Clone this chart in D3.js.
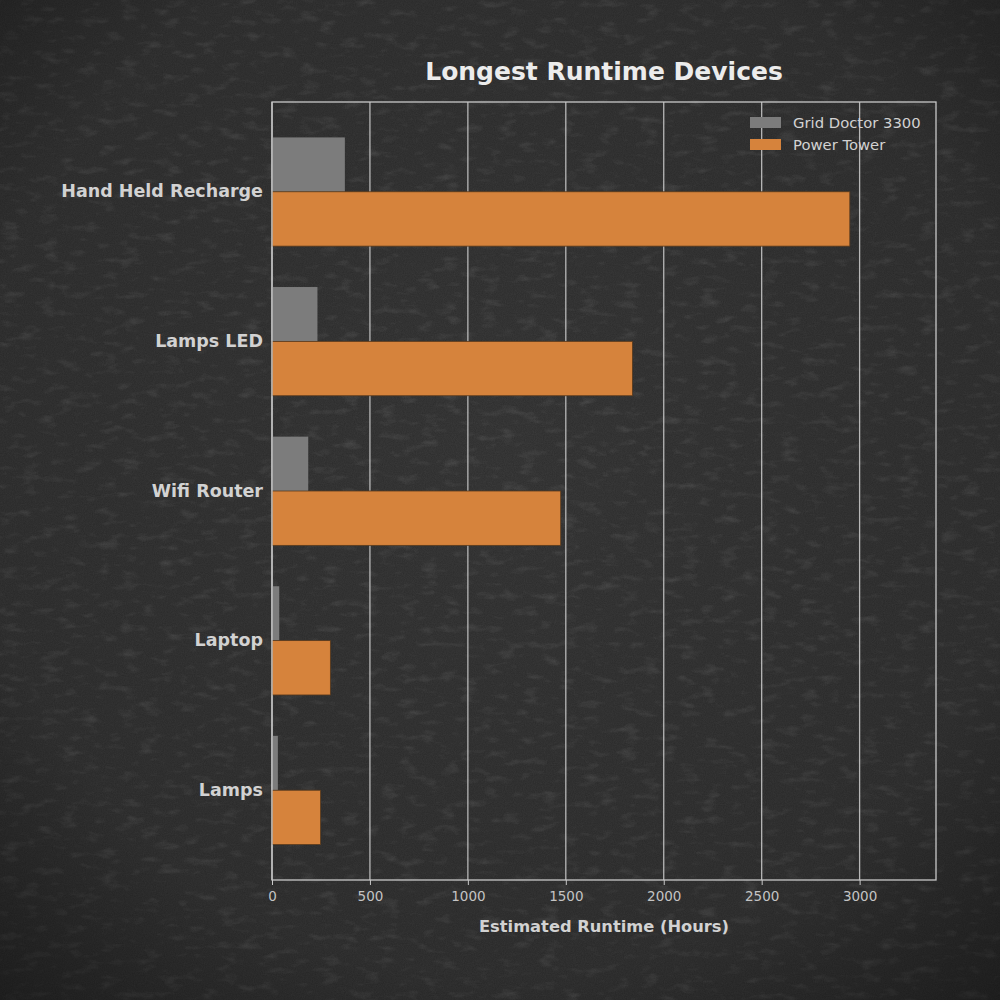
<!DOCTYPE html>
<html>
<head>
<meta charset="utf-8">
<script src="https://cdn.jsdelivr.net/npm/d3@7"></script>
<style>
  html, body { margin: 0; padding: 0; background: #2a2a2a; }
  svg { display: block; }
</style>
</head>
<body>
<svg id="chart"></svg>
<script>
// DATA
const devices = ["Hand Held Recharge", "Lamps LED", "Wifi Router", "Laptop", "Lamps"];
const grid_doctor = [372, 232, 185, 37, 30];
const power_tower = [2950, 1840, 1474, 298, 248];
const series_names = ["Grid Doctor 3300", "Power Tower"];
const x_ticks = [0, 500, 1000, 1500, 2000, 2500, 3000];
const x_max = 3390;

// LAYOUT
const width = 1000, height = 1000;
const margin = {left: 272, right: 64, top: 102, bottom: 120};
const plot_w = width - margin.left - margin.right;
const plot_h = height - margin.top - margin.bottom;
const text_col = "#d2d2d2";
const font = "'DejaVu Sans', sans-serif";

const svg = d3.select("#chart")
    .attr("width", width)
    .attr("height", height);

// background texture: base + grain + scratches + vignette
const defs = svg.append("defs");
const vig = defs.append("radialGradient").attr("id", "vig")
    .attr("cx", "50%").attr("cy", "45%").attr("r", "75%");
vig.append("stop").attr("offset", "0%").attr("stop-color", "#000").attr("stop-opacity", 0);
vig.append("stop").attr("offset", "70%").attr("stop-color", "#000").attr("stop-opacity", 0.12);
vig.append("stop").attr("offset", "100%").attr("stop-color", "#000").attr("stop-opacity", 0.45);

const noise = defs.append("filter").attr("id", "grain")
    .attr("x", 0).attr("y", 0).attr("width", "100%").attr("height", "100%");
noise.append("feTurbulence").attr("type", "fractalNoise")
    .attr("baseFrequency", "0.9").attr("numOctaves", 2).attr("seed", 4);
noise.append("feColorMatrix").attr("type", "matrix")
    .attr("values", "0 0 0 0 1  0 0 0 0 1  0 0 0 0 1  0 0 0 0.07 0");

const scratch = defs.append("filter").attr("id", "scratch")
    .attr("x", 0).attr("y", 0).attr("width", "100%").attr("height", "100%");
scratch.append("feTurbulence").attr("type", "fractalNoise")
    .attr("baseFrequency", "0.05 0.12").attr("numOctaves", 3).attr("seed", 11);
scratch.append("feColorMatrix").attr("type", "matrix")
    .attr("values", "0 0 0 0 1  0 0 0 0 1  0 0 0 0 1  0 0 0 1.6 -0.85");

svg.append("rect").attr("width", width).attr("height", height).attr("fill", "#2d2d2d");
svg.append("rect").attr("width", width).attr("height", height).attr("filter", "url(#scratch)").attr("opacity", 0.15);
svg.append("rect").attr("width", width).attr("height", height).attr("filter", "url(#grain)");
svg.append("rect").attr("width", width).attr("height", height).attr("fill", "url(#vig)");

// SCALES
const x = d3.scaleLinear().domain([0, x_max]).range([0, plot_w]);
const y = d3.scaleBand().domain(devices).range([0, plot_h]).paddingInner(0.2733).paddingOuter(0.2367);

const g = svg.append("g").attr("transform", `translate(${margin.left},${margin.top})`);

// grid lines
g.append("g")
    .selectAll("line")
    .data(x_ticks)
    .join("line")
    .attr("x1", d => x(d)).attr("x2", d => x(d))
    .attr("y1", 0).attr("y2", plot_h)
    .attr("stroke", "#cfcfcf")
    .attr("stroke-width", 1.3)
    .attr("opacity", 0.85);

// bars
const bar_h = y.bandwidth() / 2;
const rows = devices.map((d, i) => ({device: d, gd: grid_doctor[i], pt: power_tower[i]}));

g.append("g")
    .selectAll("rect")
    .data(rows)
    .join("rect")
    .attr("x", 0)
    .attr("y", d => y(d.device))
    .attr("width", d => x(d.gd))
    .attr("height", bar_h)
    .attr("fill", "#7c7c7c");

g.append("g")
    .selectAll("rect")
    .data(rows)
    .join("rect")
    .attr("x", 0)
    .attr("y", d => y(d.device) + bar_h)
    .attr("width", d => x(d.pt))
    .attr("height", bar_h)
    .attr("fill", "#d6833c")
    .attr("stroke", "#5a3a1c")
    .attr("stroke-width", 0.8);

// frame
g.append("rect")
    .attr("width", plot_w).attr("height", plot_h)
    .attr("fill", "none")
    .attr("stroke", "#c8c8c8")
    .attr("stroke-width", 1.3);

// x axis
const x_axis = g.append("g")
    .attr("transform", `translate(0,${plot_h})`)
    .call(d3.axisBottom(x).tickValues(x_ticks).tickFormat(d3.format("d")).tickSize(5).tickPadding(6));
x_axis.select(".domain").remove();
x_axis.selectAll("line").attr("stroke", "#c8c8c8");
x_axis.selectAll("text")
    .attr("fill", "#c4c4c4")
    .style("font-family", font)
    .style("font-size", "13.5px");

// y axis labels
const y_axis = g.append("g")
    .call(d3.axisLeft(y).tickSize(0).tickPadding(9));
y_axis.select(".domain").remove();
y_axis.selectAll("text")
    .attr("fill", text_col)
    .style("font-family", font)
    .style("font-size", "17.5px")
    .style("font-weight", "bold");

// axis title
svg.append("text")
    .attr("x", margin.left + plot_w / 2)
    .attr("y", 932)
    .attr("text-anchor", "middle")
    .attr("fill", text_col)
    .style("font-family", font)
    .style("font-size", "16.3px")
    .style("font-weight", "bold")
    .text("Estimated Runtime (Hours)");

// chart title
svg.append("text")
    .attr("x", margin.left + plot_w / 2)
    .attr("y", 80)
    .attr("text-anchor", "middle")
    .attr("fill", "#ececec")
    .style("font-family", font)
    .style("font-size", "25px")
    .style("font-weight", "bold")
    .text("Longest Runtime Devices");

// legend
const legend = svg.append("g").attr("transform", "translate(750,117)");
const legend_colors = ["#7c7c7c", "#d6833c"];
const items = legend.selectAll("g")
    .data(series_names)
    .join("g")
    .attr("transform", (d, i) => `translate(0,${i * 22})`);
items.append("rect")
    .attr("width", 31).attr("height", 11)
    .attr("fill", (d, i) => legend_colors[i]);
items.append("text")
    .attr("x", 43).attr("y", 11)
    .attr("fill", text_col)
    .style("font-family", font)
    .style("font-size", "14.8px")
    .text(d => d);
</script>
</body>
</html>
